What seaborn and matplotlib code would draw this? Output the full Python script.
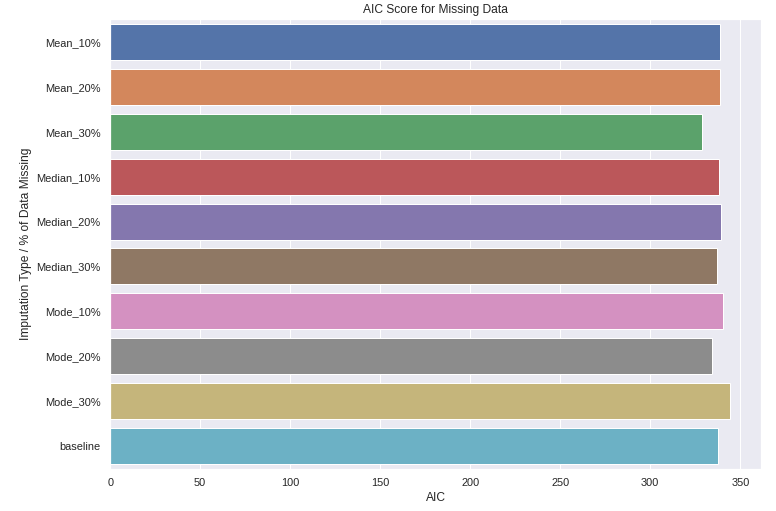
import matplotlib
matplotlib.use('Agg')
import matplotlib.pyplot as plt
import seaborn as sns
import pandas as pd

# imputation type / % missing and resulting AIC
labels = ['Mean_10%', 'Mean_20%', 'Mean_30%',
          'Median_10%', 'Median_20%', 'Median_30%',
          'Mode_10%', 'Mode_20%', 'Mode_30%', 'baseline']
aic = [338.7, 338.7, 328.7, 338.1, 339.2, 337.0, 340.3, 334.2, 344.4, 337.6]

sns.set_theme(style='darkgrid')
plt.rcParams['font.family'] = ['Liberation Sans', 'DejaVu Sans']

data = pd.DataFrame({'label': labels, 'AIC': aic})

fig, ax = plt.subplots(figsize=(776 / 72, 511 / 72), dpi=72)
fig.subplots_adjust(left=0.142, right=0.981, top=0.962, bottom=0.083)

sns.barplot(data, x='AIC', y='label', hue='label', palette='deep',
            saturation=0.85, legend=False, ax=ax,
            edgecolor='white', linewidth=1)

ax.set_title('AIC Score for Missing Data')
ax.set_xlabel('AIC')
ax.set_ylabel('Imputation Type / % of Data Missing')

plt.savefig('out.png', dpi=72)
